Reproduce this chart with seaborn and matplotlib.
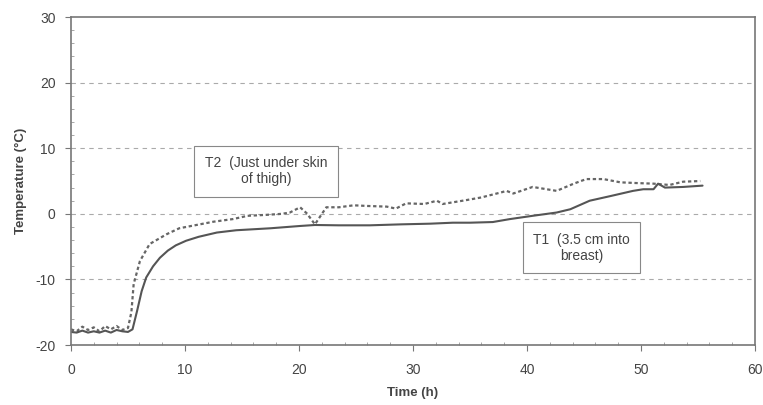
"""
Temperature of a thawing bird: breast core (T1) vs just under the thigh skin (T2).
"""
import matplotlib
matplotlib.use("Agg")
import matplotlib.pyplot as plt
from matplotlib.ticker import MultipleLocator
import pandas as pd
import seaborn as sns

# T1 - 3.5 cm into breast (solid line)
t1_time = [0, 0.5, 1, 1.5, 2, 2.5, 3, 3.5, 4, 4.5, 5, 5.4, 5.8, 6.2, 6.6,
           7.2, 7.8, 8.5, 9.2, 10.1, 11.2, 12.8, 14.5, 17.5, 20.1, 21.4,
           23.5, 26.2, 29, 31.5, 33.5, 35, 37, 38.5, 40.5, 42.6, 43.8, 45.5,
           47.3, 49.3, 50.2, 51.1, 51.5, 52.1, 53.7, 55.4]
t1_temp = [-18.0, -18.1, -17.8, -18.1, -17.9, -18.1, -17.8, -18.1, -17.7,
           -17.9, -18.0, -17.6, -14.8, -11.8, -9.7, -8.0, -6.7, -5.6, -4.8,
           -4.1, -3.5, -2.85, -2.5, -2.2, -1.85, -1.7, -1.75, -1.75, -1.6,
           -1.5, -1.35, -1.35, -1.25, -0.8, -0.3, 0.2, 0.7, 2.0, 2.7, 3.5,
           3.75, 3.75, 4.6, 4.0, 4.1, 4.3]

# T2 - just under skin of thigh (dotted line)
t2_time = [0, 0.5, 1, 1.5, 2, 2.5, 3, 3.5, 4, 4.5, 5, 5.3, 5.5, 6.05, 6.9,
           7.5, 8.4, 9.5, 11.3, 12.5, 14.2, 15.5, 17.2, 18.5, 19.2, 20.1,
           20.7, 21.4, 22.4, 23.5, 24.8, 26, 27.7, 28.5, 29.4, 31, 32.1,
           32.6, 34.7, 36, 37.8, 38.2, 38.8, 40.5, 42.6, 44.1, 45.2, 46.7,
           48.2, 49.5, 51.1, 52.5, 53.7, 55.2]
t2_temp = [-17.6, -17.9, -17.2, -17.7, -17.3, -17.9, -17.1, -17.6, -17.1,
           -17.7, -17.4, -15.0, -10.7, -7.2, -4.6, -4.0, -3.1, -2.2, -1.6,
           -1.2, -0.8, -0.3, -0.15, 0.0, 0.2, 1.0, 0.05, -1.6, 1.0, 1.0, 1.3,
           1.2, 1.1, 0.8, 1.6, 1.5, 2.0, 1.5, 2.1, 2.5, 3.3, 3.5, 3.1, 4.1,
           3.5, 4.6, 5.3, 5.3, 4.8, 4.7, 4.6, 4.4, 4.9, 5.0]

t1_label = "T1  (3.5 cm into\nbreast)"
t2_label = "T2  (Just under skin\nof thigh)"

sns.set_style("white")
plt.rcParams["font.family"] = ["Liberation Sans", "DejaVu Sans"]
plt.rcParams["axes.unicode_minus"] = False

grey = "#555555"
df1 = pd.DataFrame({"time": t1_time, "temp": t1_temp})
df2 = pd.DataFrame({"time": t2_time, "temp": t2_temp})

fig = plt.figure(figsize=(7.63, 4.05), dpi=100)
ax = fig.add_axes([0.093, 0.148, 0.8965, 0.81])

sns.lineplot(data=df2, x="time", y="temp", ax=ax, color="#666666",
             linewidth=1.6, linestyle=(0, (1.5, 1.2)))
sns.lineplot(data=df1, x="time", y="temp", ax=ax, color=grey, linewidth=1.5)

ax.set_xlim(0, 60)
ax.set_ylim(-20, 30)
ax.xaxis.set_major_locator(MultipleLocator(10))
ax.yaxis.set_major_locator(MultipleLocator(10))
ax.xaxis.set_minor_locator(MultipleLocator(2))
ax.yaxis.set_minor_locator(MultipleLocator(2))

# dashed horizontal grid only
for yv in [-10, 0, 10, 20]:
    ax.axhline(yv, color="#aaaaaa", linestyle=(0, (4, 4)), linewidth=0.8, zorder=0)

for side in ["left", "bottom", "top", "right"]:
    ax.spines[side].set_color("#777777")
    ax.spines[side].set_linewidth(1.2)

ax.tick_params(axis="both", which="major", direction="out", length=4,
               color="#777777", labelsize=10, labelcolor="#444444")
ax.tick_params(axis="x", which="major", pad=9)
ax.tick_params(axis="y", which="major", pad=7)
ax.tick_params(axis="both", which="minor", direction="in", length=2,
               color="#999999")
ax.tick_params(axis="x", which="both", bottom=True)
ax.tick_params(axis="y", which="both", left=True)

ax.set_xlabel("Time (h)", fontsize=9.5, fontweight="bold", color="#444444", labelpad=7)
ax.set_ylabel("Temperature (\u00b0C)", fontsize=9.5, fontweight="bold", color="#444444", labelpad=6)

box = dict(boxstyle="square,pad=0.75", facecolor="white", edgecolor="#888888", linewidth=0.8)
ax.text(17.1, 6.5, t2_label, ha="center", va="center", fontsize=10,
        color="#444444", bbox=box, linespacing=1.2)
ax.text(44.8, -5.2, t1_label, ha="center", va="center", fontsize=10,
        color="#444444", bbox=box, linespacing=1.2)

fig.savefig("out.png", dpi=100)
